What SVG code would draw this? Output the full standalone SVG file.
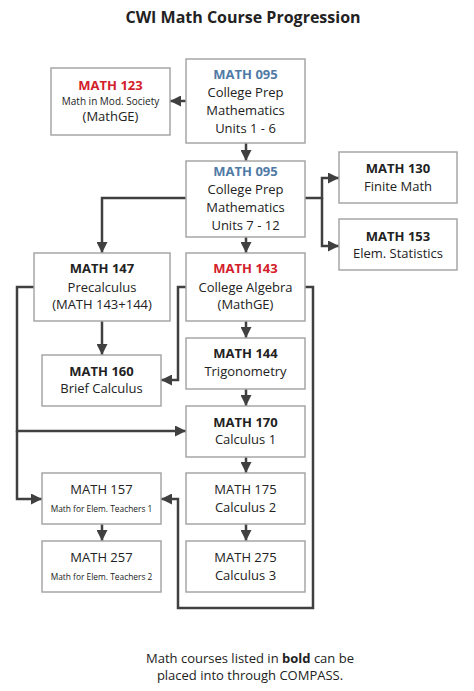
<svg xmlns="http://www.w3.org/2000/svg" width="474" height="691" viewBox="0 0 474 691">
<style>
text{font-family:"Open Sans","Liberation Sans",sans-serif;font-size:13px;fill:#222;text-anchor:middle}
.t{font-weight:bold}
.blue{fill:#4f7aa6}
.red{fill:#d3202a}
.s{font-size:10px}
.xs{font-size:8.4px}
.box{fill:#fff;stroke:#a6a6a6;stroke-width:1.5}
.c{fill:none;stroke:#404040;stroke-width:2.5;marker-end:url(#a)}
</style>
<defs>
<marker id="a" viewBox="0 0 10 10" refX="10" refY="5" markerWidth="11" markerHeight="11" markerUnits="userSpaceOnUse" orient="auto">
<path d="M0,0 L10,5 L0,10 z" fill="#404040"/>
</marker>
</defs>
<rect width="474" height="691" fill="#fff"/>
<text x="243" y="23" class="t" style="font-size:16px">CWI Math Course Progression</text>

<g id="connectors">
<path class="c" d="M186,101 H170"/>
<path class="c" d="M246,143 V161"/>
<path class="c" d="M186,198 H102 V253"/>
<path class="c" d="M305,198 H322 V178 H339"/>
<path class="c" d="M322,198 V246 H339"/>
<path class="c" d="M246,237 V253"/>
<path class="c" d="M102,321 V355"/>
<path class="c" d="M246,321 V338"/>
<path class="c" d="M246,389 V406"/>
<path class="c" d="M186,287 H178 V380 H161"/>
<path class="c" d="M34,287 H17 V431 H186"/>
<path class="c" d="M17,431 V499 H42"/>
<path class="c" d="M305,287 H313 V608 H178 V499 H161"/>
<path class="c" d="M246,457 V473"/>
<path class="c" d="M246,524 V541"/>
<path class="c" d="M102,524 V541"/>
</g>

<g id="math123">
<rect class="box" x="51" y="68" width="119" height="67"/>
<text x="110.5" y="90" class="t red">MATH 123</text>
<text x="110.5" y="105" class="s">Math in Mod. Society</text>
<text x="110.5" y="121">(MathGE)</text>
</g>
<g id="math095a">
<rect class="box" x="186" y="59" width="119" height="84"/>
<text x="245.5" y="79" class="t blue">MATH 095</text>
<text x="245.5" y="97">College Prep</text>
<text x="245.5" y="115">Mathematics</text>
<text x="245.5" y="133">Units 1 - 6</text>
</g>
<g id="math095b">
<rect class="box" x="186" y="161" width="119" height="76"/>
<text x="245.5" y="176" class="t blue">MATH 095</text>
<text x="245.5" y="194">College Prep</text>
<text x="245.5" y="212">Mathematics</text>
<text x="245.5" y="230">Units 7 - 12</text>
</g>
<g id="math130">
<rect class="box" x="339" y="152" width="118" height="51"/>
<text x="398" y="173" class="t">MATH 130</text>
<text x="398" y="191">Finite Math</text>
</g>
<g id="math153">
<rect class="box" x="339" y="219" width="118" height="51"/>
<text x="398" y="241" class="t">MATH 153</text>
<text x="398" y="258">Elem. Statistics</text>
</g>
<g id="math147">
<rect class="box" x="34" y="253" width="136" height="68"/>
<text x="102" y="273" class="t">MATH 147</text>
<text x="102" y="292">Precalculus</text>
<text x="102" y="309">(MATH 143+144)</text>
</g>
<g id="math143">
<rect class="box" x="186" y="253" width="119" height="68"/>
<text x="245.5" y="273" class="t red">MATH 143</text>
<text x="245.5" y="292">College Algebra</text>
<text x="245.5" y="309">(MathGE)</text>
</g>
<g id="math160">
<rect class="box" x="42" y="355" width="119" height="51"/>
<text x="101.5" y="376" class="t">MATH 160</text>
<text x="101.5" y="393">Brief Calculus</text>
</g>
<g id="math144">
<rect class="box" x="186" y="338" width="119" height="51"/>
<text x="245.5" y="358" class="t">MATH 144</text>
<text x="245.5" y="376">Trigonometry</text>
</g>
<g id="math170">
<rect class="box" x="186" y="406" width="119" height="51"/>
<text x="245.5" y="427" class="t">MATH 170</text>
<text x="245.5" y="444">Calculus 1</text>
</g>
<g id="math157">
<rect class="box" x="42" y="473" width="119" height="51"/>
<text x="101.5" y="494">MATH 157</text>
<text x="101.5" y="512" class="xs">Math for Elem. Teachers 1</text>
</g>
<g id="math175">
<rect class="box" x="186" y="473" width="119" height="51"/>
<text x="245.5" y="494">MATH 175</text>
<text x="245.5" y="512">Calculus 2</text>
</g>
<g id="math257">
<rect class="box" x="42" y="541" width="119" height="51"/>
<text x="101.5" y="562">MATH 257</text>
<text x="101.5" y="580" class="xs">Math for Elem. Teachers 2</text>
</g>
<g id="math275">
<rect class="box" x="186" y="541" width="119" height="51"/>
<text x="245.5" y="562">MATH 275</text>
<text x="245.5" y="580">Calculus 3</text>
</g>

<text x="250" y="663">Math courses listed in <tspan class="t">bold</tspan> can be</text>
<text x="250" y="680">placed into through COMPASS.</text>
</svg>
